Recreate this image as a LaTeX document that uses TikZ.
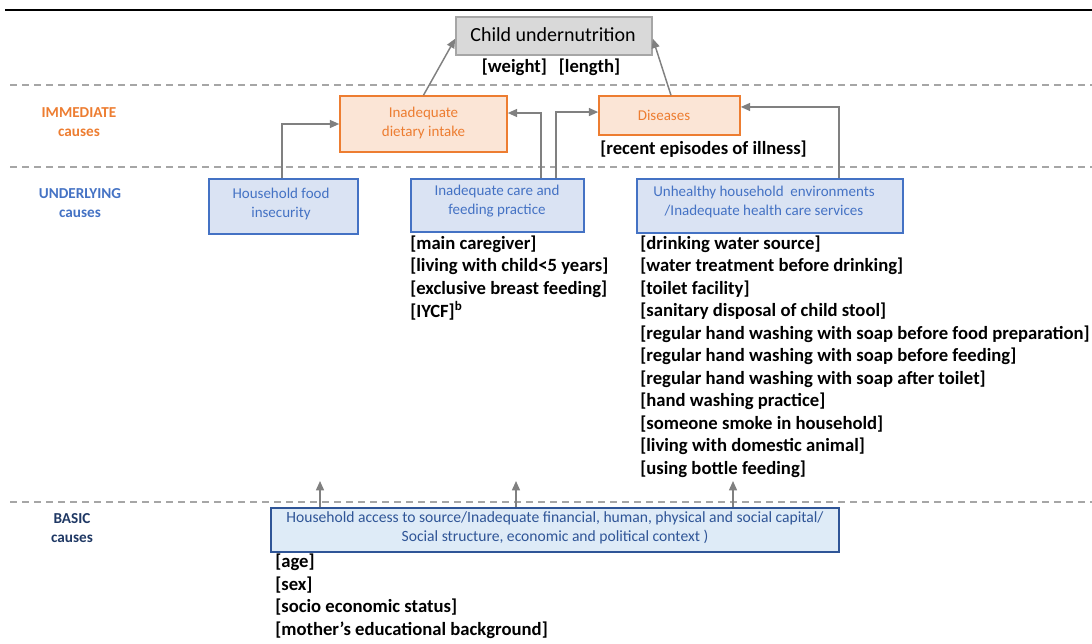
\documentclass[tikz,border=0pt]{standalone}
\usepackage{fontspec}
\setmainfont{Carlito}
\usetikzlibrary{arrows.meta}
\definecolor{orng}{HTML}{ED7D31}
\definecolor{orngfill}{HTML}{FBE5D6}
\definecolor{blu}{HTML}{4472C4}
\definecolor{blufill}{HTML}{DAE3F3}
\definecolor{navy}{HTML}{1F3864}
\definecolor{basicborder}{HTML}{2F5597}
\definecolor{basicfill}{HTML}{DEEBF7}
\definecolor{arrgray}{HTML}{808080}
\definecolor{dashgray}{HTML}{A6A6A6}
\definecolor{childfill}{HTML}{D9D9D9}
\tikzset{
  sep/.style={draw=dashgray, line width=1.5pt, dash pattern=on 5.5pt off 3.5pt},
  arr/.style={draw=arrgray, line width=1.1pt, -{Triangle[length=7pt,width=6pt]}},
  childbox/.style={draw=dashgray, line width=1.2pt, fill=childfill, inner sep=0pt},
  orbox/.style={draw=orng, line width=1.2pt, fill=orngfill, inner sep=0pt},
  blbox/.style={draw=blu, line width=1.2pt, fill=blufill, inner sep=0pt},
  basbox/.style={draw=basicborder, line width=1.2pt, fill=basicfill, inner sep=0pt},
  boxtext/.style={align=center, inner sep=0pt, font=\fontsize{11.25}{14.25}\selectfont},
  listitem/.style={anchor=west, inner sep=0pt, font=\fontsize{14}{16}\selectfont\bfseries},
  lvl/.style={align=center, inner sep=0pt, font=\fontsize{11.4}{14.25}\selectfont\bfseries},
}
\begin{document}
\begin{tikzpicture}[x=0.75pt,y=-0.75pt]
\useasboundingbox (0,0) rectangle (1092,643);
% separators
\draw[black, line width=1.5pt] (5,10) -- (1092,10);
\draw[sep] (10,85) -- (1092,85);
\draw[sep] (10,167) -- (1092,167);
\draw[sep] (10,502) -- (1092,502);
% level labels
\node[lvl, text=orng] (limm) at (79,122.5) {IMMEDIATE\\causes};
\node[lvl, text=blu] (lund) at (80,203.5) {UNDERLYING\\causes};
\node[lvl, text=navy] (lbas) at (72,528) {BASIC\\causes};
% boxes
\node[childbox, minimum width=147pt, minimum height=28.5pt] (child) at (554,36) {};
\node[inner sep=0pt, font=\fontsize{15}{18}\selectfont] (childt) at (553,35) {Child undernutrition};
\node[inner sep=0pt, font=\fontsize{14}{16}\selectfont\bfseries] (wl) at (551,67) {[weight]\hspace{9pt}[length]};
\node[orbox, minimum width=125.25pt, minimum height=42pt] (diet) at (423.5,124) {};
\node[boxtext, text=orng] (dietT) at (423.5,122.5) {Inadequate\\dietary intake};
\node[orbox, minimum width=105.75pt, minimum height=29.25pt] (dis) at (669.5,115.5) {};
\node[boxtext, text=orng] (disT) at (664,115) {Diseases};
\node[listitem] (ill) at (600,149) {[recent episodes of illness]};
\node[blbox, minimum width=111.75pt, minimum height=41.25pt] (food) at (283.5,206.5) {};
\node[boxtext, text=blu] (foodT) at (281,203.5) {Household food\\insecurity};
\node[blbox, minimum width=129.75pt, minimum height=39.75pt] (care) at (497.5,205.5) {};
\node[boxtext, text=blu] (careT) at (497,201.5) {Inadequate care and\\feeding practice};
\node[blbox, minimum width=199.5pt, minimum height=40.5pt] (env) at (770,206) {};
\node[boxtext, text=blu] (envT) at (764,201.5) {Unhealthy household\ \ environments\\/Inadequate health care services};
\node[basbox, minimum width=426pt, minimum height=33pt] (basic) at (555,530) {};
\node[boxtext, text=basicborder, font=\fontsize{11.7}{14.25}\selectfont] (basicT) at (555,527.5) {Household access to source/Inadequate financial, human, physical and social capital/\\Social structure, economic and political context )};
% lists
\node[listitem] (c1) at (410,244) {[main caregiver]};
\node[listitem] (c2) at (410,266.5) {[living with child<5 years]};
\node[listitem] (c3) at (410,289) {[exclusive breast feeding]};
\node[listitem] (c4) at (410,311) {[IYCF]\textsuperscript{b}};
\node[listitem] (u1) at (640,244) {[drinking water source]};
\node[listitem] (u2) at (640,266.5) {[water treatment before drinking]};
\node[listitem] (u3) at (640,289) {[toilet facility]};
\node[listitem] (u4) at (640,311.5) {[sanitary disposal of child stool]};
\node[listitem] (u5) at (640,334) {[regular hand washing with soap before food preparation]};
\node[listitem] (u6) at (640,356.5) {[regular hand washing with soap before feeding]};
\node[listitem] (u7) at (640,379) {[regular hand washing with soap after toilet]};
\node[listitem] (u8) at (640,401.5) {[hand washing practice]};
\node[listitem] (u9) at (640,424) {[someone smoke in household]};
\node[listitem] (u10) at (640,446.5) {[living with domestic animal]};
\node[listitem] (u11) at (640,469) {[using bottle feeding]};
\node[listitem] (b1) at (275,562) {[age]};
\node[listitem] (b2) at (275,585) {[sex]};
\node[listitem] (b3) at (275,607) {[socio economic status]};
\node[listitem] (b4) at (275,630) {[mother’s educational background]};
% connectors
\draw[arr] (diet.north) -- ([yshift=-2pt]child.west);
\draw[arr] ([xshift=1.1pt]dis.north) -- ([yshift=-2pt]child.east);
\draw[arr] ([xshift=-1.1pt]food.north) |- (diet.west);
\draw[arr] ([xshift=32.6pt]care.north) |- ([yshift=8.25pt]diet.east);
\draw[arr] ([xshift=43.9pt]care.north) |- ([yshift=2.6pt]dis.west);
\draw[arr] ([xshift=51.75pt]env.north) |- ([yshift=6.4pt]dis.east);
\coordinate (t1) at (320,481);
\coordinate (t2) at (516,481);
\coordinate (t3) at (733,481);
\draw[arr] (t1 |- basic.north) -- (t1);
\draw[arr] (t2 |- basic.north) -- (t2);
\draw[arr] (t3 |- basic.north) -- (t3);
\end{tikzpicture}
\end{document}
